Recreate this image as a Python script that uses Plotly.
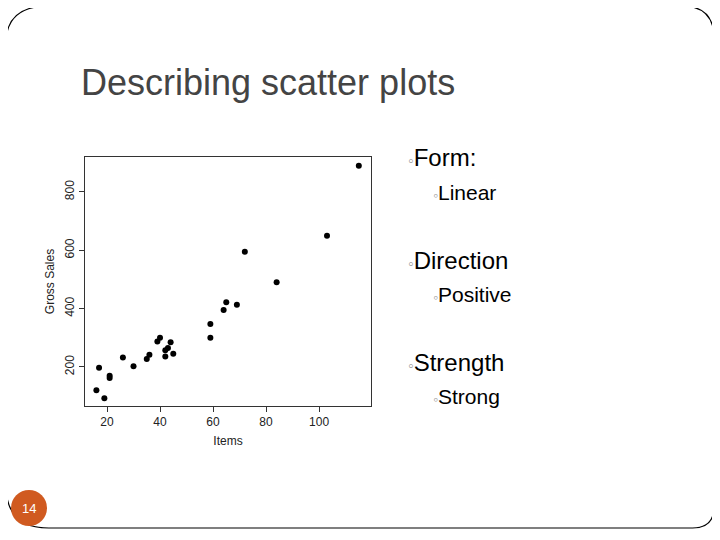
import plotly.graph_objects as go

items = [16,17,19,21,21,26,30,35,36,39,40,42,42,43,44,45,59,59,64,65,69,72,84,103,115]
sales = [120,197,93,170,162,232,202,227,242,287,300,257,236,265,285,245,347,300,395,422,413,595,490,650,890]
x_ticks = [20,40,60,80,100]
y_ticks = [200,400,600,800]
bullets = [("Form:", 0), ("Linear", 1), ("Direction", 0), ("Positive", 1), ("Strength", 0), ("Strong", 1)]

OFF = 8
W, H = 720 - OFF, 540 - OFF
def px(X): return (X - OFF) / W
def py(Y): return (H - (Y - OFF)) / H

fig = go.Figure(go.Scatter(x=items, y=sales, mode="markers",
                           marker=dict(color="black", size=6)))
ax = dict(showgrid=False, zeroline=False, showline=True, linecolor="#333", linewidth=1,
          mirror=True, ticks="outside", ticklen=5, tickcolor="#333",
          tickfont=dict(family="Liberation Sans", size=12, color="#222"))
fig.update_xaxes(**ax, range=[11.7, 119.6], tickvals=x_ticks, domain=[px(85), px(371)],
                 title=dict(text="Items", font=dict(family="Liberation Sans", size=12, color="#222"), standoff=8))
fig.update_yaxes(**ax, range=[66, 920], tickvals=y_ticks, tickangle=-90,
                 domain=[py(406), py(157)],
                 title=dict(text="Gross Sales", font=dict(family="Liberation Sans", size=12, color="#222"), standoff=6))

L, R, T, B = px(6), px(714), py(6), py(528)
path = (f"M {L},{T-0.07} Q {L},{T} {L+0.06},{T} L {R-0.045},{T} Q {R},{T} {R},{T-0.06} "
        f"L {R},{B+0.04} Q {R},{B} {R-0.03},{B} L {L+0.06},{B} Q {L},{B} {L},{B+0.08} Z")
shapes = [
    dict(type="path", xref="paper", yref="paper", path=path,
         line=dict(color="black", width=1.2), layer="below"),
    dict(type="circle", xref="paper", yref="paper",
         x0=px(11), x1=px(47), y0=py(526), y1=py(490),
         fillcolor="#D05A20", line=dict(width=0), layer="below"),
]
ann = [dict(text="Describing scatter plots", x=px(79), y=py(82), xref="paper", yref="paper",
            xanchor="left", yanchor="middle", showarrow=False,
            font=dict(family="Liberation Sans", size=36, color="#444")),
       dict(text="14", x=px(29), y=py(508), xref="paper", yref="paper", showarrow=False,
            xanchor="center", yanchor="middle",
            font=dict(family="Liberation Sans", size=13, color="white"))]
ys = [158, 192, 260, 294, 362, 396]
for (t, lvl), yy in zip(bullets, ys):
    xx = 406 if lvl == 0 else 431
    ann.append(dict(text=f"<span style='font-size:{16 if lvl==0 else 14}px;color:#999'>◦</span>{t}",
                    x=px(xx), y=py(yy), xref="paper", yref="paper", xanchor="left", yanchor="middle",
                    showarrow=False,
                    font=dict(family="Liberation Sans", size=24 if lvl == 0 else 21, color="black")))
fig.update_layout(width=W, height=H, margin=dict(l=0, r=0, t=0, b=0), showlegend=False,
                  plot_bgcolor="white", paper_bgcolor="white", shapes=shapes, annotations=ann)
fig.write_html("out.html")
